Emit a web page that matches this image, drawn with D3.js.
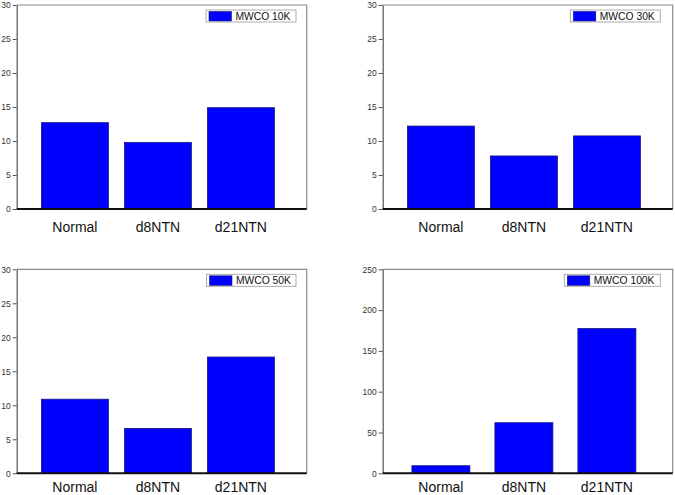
<!DOCTYPE html>
<html><head><meta charset="utf-8">
<script src="https://cdn.jsdelivr.net/npm/d3@7"></script>
<style>
html,body{margin:0;padding:0;background:#fff;}
svg{display:block;}
</style></head>
<body>
<script>
// ---- data ----
const categories = ["Normal", "d8NTN", "d21NTN"];
const mwco10K = [12.7, 9.8, 14.9];
const mwco30K = [12.2, 7.8, 10.75];
const mwco50K = [10.9, 6.6, 17.1];
const mwco100K = [9.3, 62, 177.5];
const seriesLabels = ["MWCO 10K", "MWCO 30K", "MWCO 50K", "MWCO 100K"];
const ticks30 = [0, 5, 10, 15, 20, 25, 30];
const ticks250 = [0, 50, 100, 150, 200, 250];

const W = 675, H = 495;
const svg = d3.select("body").append("svg").attr("width", W).attr("height", H);

const panels = [
  {values: mwco10K, label: seriesLabels[0], ticks: ticks30, x0: 16.7, y0: 5, barW: 67, legX: 206, legW: 90, catDy: 22.5},
  {values: mwco30K, label: seriesLabels[1], ticks: ticks30, x0: 382.7, y0: 5, barW: 67, legX: 570.3, legW: 90, catDy: 22.5},
  {values: mwco50K, label: seriesLabels[2], ticks: ticks30, x0: 16.7, y0: 269.3, barW: 67, legX: 206.5, legW: 89.5, catDy: 18.5},
  {values: mwco100K, label: seriesLabels[3], ticks: ticks250, x0: 382.7, y0: 269.3, barW: 58, legX: 564.3, legW: 96, catDy: 18.5}
];

const plotW = 290, plotH = 204;
const font = "'Liberation Sans', Arial, Helvetica, sans-serif";

panels.forEach(p => {
  const g = svg.append("g");
  const x = d3.scalePoint().domain(categories).range([p.x0 + 58.2, p.x0 + 224.2]);
  const yMax = p.ticks[p.ticks.length - 1];
  const y = d3.scaleLinear().domain([0, yMax]).range([p.y0 + plotH, p.y0]);

  // frame top/right (gray)
  g.append("path")
    .attr("d", `M${p.x0},${p.y0}H${p.x0 + plotW}V${p.y0 + plotH}`)
    .attr("fill", "none").attr("stroke", "#8a8a8a").attr("stroke-width", 1.2);

  // bars
  g.selectAll("rect.bar").data(p.values).join("rect")
    .attr("class", "bar")
    .attr("x", (d, i) => x(categories[i]) - p.barW / 2)
    .attr("width", p.barW)
    .attr("y", d => y(d))
    .attr("height", d => y(0) - y(d))
    .attr("fill", "#0000ff")
    .attr("stroke", "#1a1a80").attr("stroke-width", 0.8);

  // y axis
  const ya = g.append("g").attr("transform", `translate(${p.x0},0)`)
    .call(d3.axisLeft(y).tickValues(p.ticks).tickSize(4).tickPadding(2).tickSizeOuter(0));
  ya.select(".domain").attr("stroke", "#555").attr("stroke-width", 1.2);
  ya.selectAll(".tick line").attr("stroke", "#555");
  ya.selectAll(".tick text").attr("fill", "#333").style("font-family", font).style("font-size", "8.5px");

  // x axis (thick black baseline)
  g.append("line")
    .attr("x1", p.x0).attr("x2", p.x0 + plotW)
    .attr("y1", y(0)).attr("y2", y(0))
    .attr("stroke", "#111").attr("stroke-width", 2);

  // category labels
  g.selectAll("text.cat").data(categories).join("text")
    .attr("class", "cat")
    .attr("x", d => x(d))
    .attr("y", y(0) + p.catDy)
    .attr("text-anchor", "middle")
    .attr("fill", "#111")
    .style("font-family", font).style("font-size", "14px")
    .text(d => d);

  // legend
  const ly = p.y0 + 5;
  g.append("rect").attr("x", p.legX).attr("y", ly).attr("width", p.legW).attr("height", 12)
    .attr("fill", "#fff").attr("stroke", "#999").attr("stroke-width", 0.8);
  g.append("rect").attr("x", p.legX + 3).attr("y", ly + 1.5).attr("width", 22.5).attr("height", 9.5)
    .attr("fill", "#0000ff").attr("stroke", "#1a1a80").attr("stroke-width", 0.6);
  g.append("text").attr("x", p.legX + 29.5).attr("y", ly + 10)
    .attr("fill", "#111")
    .style("font-family", font).style("font-size", "10.3px")
    .text(p.label);
});
</script>
</body></html>
